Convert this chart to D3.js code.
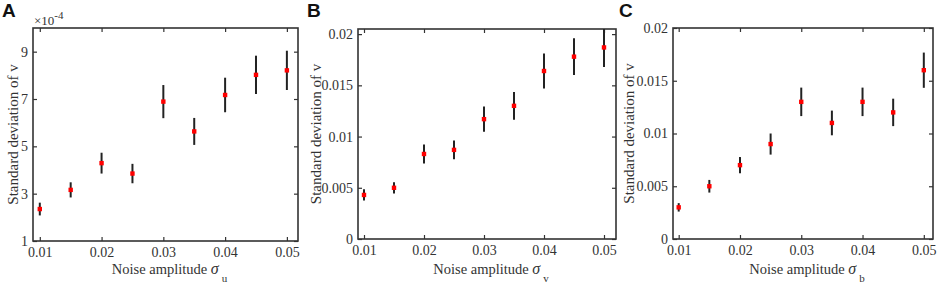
<!DOCTYPE html>
<html>
<head>
<meta charset="utf-8">
<script src="https://cdn.jsdelivr.net/npm/d3@7"></script>
<style>
  body { margin: 0; background: #fff; }
  svg { display: block; }
</style>
</head>
<body>
<svg id="SVG_CONTAINER" width="941" height="286"></svg>
<script>
// noise amplitudes on the x axis (same for the three panels)
const noiseAmp = [0.01, 0.015, 0.02, 0.025, 0.03, 0.035, 0.04, 0.045, 0.05];

// panel A: values in units of 1e-4
const sdA  = [2.35, 3.16, 4.29, 3.85, 6.89, 5.63, 7.17, 8.02, 8.21];
const errA = [0.27, 0.32, 0.44, 0.41, 0.70, 0.57, 0.73, 0.81, 0.83];

// panel B
const sdB  = [0.0043, 0.0050, 0.0083, 0.0087, 0.0117, 0.0130, 0.0164, 0.0178, 0.0187];
const errB = [0.00055, 0.00055, 0.00093, 0.00091, 0.00123, 0.00136, 0.0017, 0.0018, 0.0019];

// panel C
const sdC  = [0.003, 0.005, 0.007, 0.009, 0.013, 0.011, 0.013, 0.012, 0.016];
const errC = [0.0004, 0.0006, 0.00077, 0.001, 0.00135, 0.00117, 0.00135, 0.0013, 0.00167];

// tick values / labels
const xTicks = [0.01, 0.02, 0.03, 0.04, 0.05];
const xTickLabels = ["0.01", "0.02", "0.03", "0.04", "0.05"];
const yTicksA = [1, 3, 5, 7, 9];
const yTickLabelsA = ["1", "3", "5", "7", "9"];
const yTicksBC = [0, 0.005, 0.01, 0.015, 0.02];
const yTickLabelsBC = ["0", "0.005", "0.01", "0.015", "0.02"];

const SERIF = "'Liberation Serif', serif";
const INK = "#333";

let svg = d3.select("#SVG_CONTAINER");

drawPanel({
    id: "A", letterX: 2,
    left: 33, right: 298, top: 28, bottom: 241,
    xDomain: [0.0089, 0.0518], yDomain: [1, 10],
    y: sdA, err: errA, yTicks: yTicksA, yLabels: yTickLabelsA,
    ylabelX: 13, sub: "u", expo: true
});
drawPanel({
    id: "B", letterX: 307,
    left: 358, right: 616, top: 29, bottom: 239,
    xDomain: [0.009, 0.052], yDomain: [0, 0.0205],
    y: sdB, err: errB, yTicks: yTicksBC, yLabels: yTickLabelsBC,
    ylabelX: 316, sub: "v", expo: false
});
drawPanel({
    id: "C", letterX: 619,
    left: 673, right: 933, top: 28, bottom: 239,
    xDomain: [0.00907, 0.0515], yDomain: [0, 0.02],
    y: sdC, err: errC, yTicks: yTicksBC, yLabels: yTickLabelsBC,
    ylabelX: 629, sub: "b", expo: false
});

function drawPanel(p)
{
    let g = svg.append("g").attr("class", "panel" + p.id);

    let x = d3.scaleLinear().domain(p.xDomain).range([p.left, p.right]);
    let y = d3.scaleLinear().domain(p.yDomain).range([p.bottom, p.top]);

    // clip so error bars stay in the box
    g.append("clipPath").attr("id", "clip" + p.id)
        .append("rect")
        .attr("x", p.left).attr("y", p.top)
        .attr("width", p.right - p.left).attr("height", p.bottom - p.top);

    // axes, ticks inside, mirrored on top/right
    let bottomAxis = d3.axisBottom(x).tickValues(xTicks)
        .tickFormat((d, i) => xTickLabels[i]).tickSizeInner(-4).tickSizeOuter(0).tickPadding(6);
    let topAxis = d3.axisTop(x).tickValues(xTicks).tickFormat("").tickSizeInner(-4).tickSizeOuter(0);
    let leftAxis = d3.axisLeft(y).tickValues(p.yTicks)
        .tickFormat((d, i) => p.yLabels[i]).tickSizeInner(-4).tickSizeOuter(0).tickPadding(5);
    let rightAxis = d3.axisRight(y).tickValues(p.yTicks).tickFormat("").tickSizeInner(-4).tickSizeOuter(0);

    g.append("g").attr("transform", "translate(0," + p.bottom + ")").call(bottomAxis);
    g.append("g").attr("transform", "translate(0," + p.top + ")").call(topAxis);
    g.append("g").attr("transform", "translate(" + p.left + ",0)").call(leftAxis);
    g.append("g").attr("transform", "translate(" + p.right + ",0)").call(rightAxis);
    g.selectAll(".domain").remove();
    g.selectAll(".tick line").attr("stroke", INK).attr("stroke-width", 1.2);
    g.selectAll(".tick text")
        .attr("font-family", SERIF).attr("font-size", 14).attr("fill", INK);

    // box
    g.append("rect")
        .attr("x", p.left).attr("y", p.top)
        .attr("width", p.right - p.left).attr("height", p.bottom - p.top)
        .attr("fill", "none").attr("stroke", INK).attr("stroke-width", 1.6);

    // error bars
    let pts = noiseAmp.map((a, i) => ({a: a, v: p.y[i], e: p.err[i]}));
    g.append("g").attr("clip-path", "url(#clip" + p.id + ")")
        .selectAll("line.err").data(pts).enter()
        .append("line").attr("class", "err")
        .attr("x1", d => x(d.a)).attr("x2", d => x(d.a))
        .attr("y1", d => y(d.v - d.e)).attr("y2", d => y(d.v + d.e))
        .attr("stroke", "#222").attr("stroke-width", 2);

    // red points
    g.selectAll("rect.pt").data(pts).enter()
        .append("rect").attr("class", "pt")
        .attr("x", d => x(d.a) - 2.2).attr("y", d => y(d.v) - 2.2)
        .attr("width", 4.4).attr("height", 4.4)
        .attr("fill", "#ff0000");

    // panel letter
    svg.append("text")
        .attr("x", p.letterX).attr("y", 17)
        .attr("font-family", "'Liberation Sans', Arial, sans-serif")
        .attr("font-weight", "bold").attr("font-size", 19)
        .attr("fill", "#111")
        .text(p.id);

    // y label
    g.append("text")
        .attr("transform", "translate(" + p.ylabelX + "," + ((p.top + p.bottom) / 2) + ") rotate(-90)")
        .attr("text-anchor", "middle").attr("dy", "0.35em")
        .attr("font-family", SERIF).attr("font-size", 15).attr("fill", INK)
        .text("Standard deviation of v");

    // x label
    let xl = g.append("text")
        .attr("x", (p.left + p.right) / 2 + 4).attr("y", 274)
        .attr("text-anchor", "middle")
        .attr("font-family", SERIF).attr("font-size", 14.5).attr("fill", INK);
    xl.append("tspan").text("Noise amplitude ");
    xl.append("tspan").attr("font-style", "italic").attr("font-size", 16).text("σ");
    xl.append("tspan").attr("dx", 3).attr("dy", 8).attr("font-size", 11).text(p.sub);

    // exponent label
    if (p.expo) {
        let ex = g.append("text")
            .attr("x", p.left + 1).attr("y", 25)
            .attr("font-family", SERIF).attr("font-size", 13).attr("fill", INK);
        ex.append("tspan").text("×10");
        ex.append("tspan").attr("dy", -6).attr("font-size", 11).text("-4");
    }
}
</script>
</body>
</html>
